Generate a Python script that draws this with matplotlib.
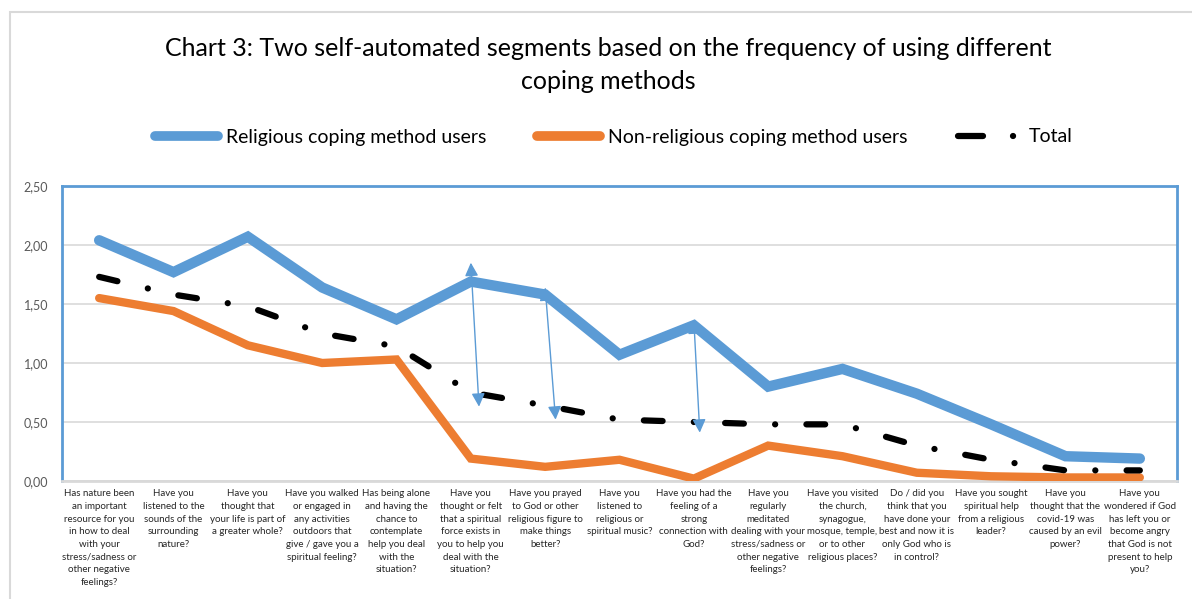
import matplotlib
matplotlib.use("Agg")
import matplotlib.pyplot as plt
from matplotlib.patches import Rectangle
from matplotlib.lines import Line2D

plt.rcParams['font.family'] = ['Lato', 'DejaVu Sans']

categories = [
    "Has nature been\nan important\nresource for you\nin how to deal\nwith your\nstress/sadness or\nother negative\nfeelings?",
    "Have you\nlistened to the\nsounds of the\nsurrounding\nnature?",
    "Have you\nthought that\nyour life is part of\na greater whole?",
    "Have you walked\nor engaged in\nany activities\noutdoors that\ngive / gave you a\nspiritual feeling?",
    "Has being alone\nand having the\nchance to\ncontemplate\nhelp you deal\nwith the\nsituation?",
    "Have you\nthought or felt\nthat a spiritual\nforce exists in\nyou to help you\ndeal with the\nsituation?",
    "Have you prayed\nto God or other\nreligious figure to\nmake things\nbetter?",
    "Have you\nlistened to\nreligious or\nspiritual music?",
    "Have you had the\nfeeling of a\nstrong\nconnection with\nGod?",
    "Have you\nregularly\nmeditated\ndealing with your\nstress/sadness or\nother negative\nfeelings?",
    "Have you visited\nthe church,\nsynagogue,\nmosque, temple,\nor to other\nreligious places?",
    "Do / did you\nthink that you\nhave done your\nbest and now it is\nonly God who is\nin control?",
    "Have you sought\nspiritual help\nfrom a religious\nleader?",
    "Have you\nthought that the\ncovid-19 was\ncaused by an evil\npower?",
    "Have you\nwondered if God\nhas left you or\nbecome angry\nthat God is not\npresent to help\nyou?",
]

religious = [2.04, 1.77, 2.07, 1.64, 1.37, 1.69, 1.58, 1.07, 1.32, 0.80, 0.95, 0.74, 0.48, 0.21, 0.19]
non_religious = [1.55, 1.44, 1.15, 1.00, 1.03, 0.19, 0.12, 0.18, 0.02, 0.30, 0.21, 0.07, 0.04, 0.03, 0.03]
total = [1.73, 1.58, 1.48, 1.25, 1.14, 0.75, 0.64, 0.52, 0.50, 0.48, 0.48, 0.30, 0.18, 0.09, 0.09]

y_ticks = [0.0, 0.5, 1.0, 1.5, 2.0, 2.5]
y_tick_labels = ["0,00", "0,50", "1,00", "1,50", "2,00", "2,50"]

# Double arrows from the religious series down to the total series
arrow_categories = [5, 6, 8]
arrow_top_offset = [0.16, 0.06, 0.04]
arrow_bottom_offset = [-0.12, -0.12, -0.09]
arrow_bottom_shift = [0.11, 0.14, 0.08]

BLUE = "#5B9BD5"
ORANGE = "#ED7D31"
GRID = "#D9D9D9"
TOTAL_STYLE = (0, (3.0, 5.0, 0.01, 5.0))

fig = plt.figure(figsize=(11.92, 5.99), dpi=100)
W, H = 1192, 599

# outer chart frame (light grey)
fig.add_artist(Rectangle((10 / W, -0.1), 1.2, 1.1 - 12 / H, transform=fig.transFigure,
                         fill=False, edgecolor=GRID, lw=1.5))

ax = fig.add_axes([62 / W, 1 - 481 / H, (1177 - 62) / W, (481 - 186) / H])

x = list(range(len(categories)))
ax.plot(x, religious, color=BLUE, lw=7.5, solid_capstyle='round', solid_joinstyle='miter',
        zorder=3)
ax.plot(x, non_religious, color=ORANGE, lw=6.0, solid_capstyle='round', solid_joinstyle='miter',
        zorder=3)
ax.plot(x, total, color="black", lw=4.5, dash_capstyle='round',
        linestyle=TOTAL_STYLE, zorder=4)

for i, top, bot, sh in zip(arrow_categories, arrow_top_offset, arrow_bottom_offset, arrow_bottom_shift):
    ax.annotate("", xy=(i + sh, total[i] + bot), xytext=(i, religious[i] + top),
                arrowprops=dict(arrowstyle='<|-|>', color=BLUE, lw=1.0,
                                mutation_scale=20, shrinkA=0, shrinkB=0), zorder=5)

ax.set_xlim(-0.5, len(categories) - 0.5)
ax.set_ylim(0, 2.5)
ax.set_yticks(y_ticks)
ax.set_yticklabels(y_tick_labels, color="#595959", fontsize=9)
ax.set_xticks(x)
ax.set_xticklabels(categories, fontsize=7, color="#262626", linespacing=1.52, va='top')
ax.tick_params(axis='both', length=0)
ax.tick_params(axis='y', pad=10)
ax.tick_params(axis='x', pad=6)
ax.grid(axis='y', color=GRID, lw=1.2)
ax.set_axisbelow(True)
for s in ['left', 'right', 'top']:
    ax.spines[s].set_color(BLUE)
    ax.spines[s].set_linewidth(2)
ax.spines['bottom'].set_color(GRID)
ax.spines['bottom'].set_linewidth(2)

fig.text(0.51, 1 - 65 / H,
         "Chart 3: Two self-automated segments based on the frequency of using different\ncoping methods",
         ha='center', va='center', fontsize=18, linespacing=1.55, color="black")

handles = [Line2D([], [], color=BLUE, lw=7, solid_capstyle='round'),
           Line2D([], [], color=ORANGE, lw=7, solid_capstyle='round'),
           Line2D([], [], color="black", lw=4.5, dash_capstyle='round',
                  linestyle=(0, (4.0, 4.8, 0.01, 10.0)))]
fig.legend(handles, ["Religious coping method users", "Non-religious coping method users", "Total"],
           loc='center', bbox_to_anchor=(0.515, 1 - 137 / H), ncol=3, frameon=False,
           fontsize=14, handlelength=3.25, columnspacing=2.6, handletextpad=0.4)

fig.savefig("out.png", dpi=100)
